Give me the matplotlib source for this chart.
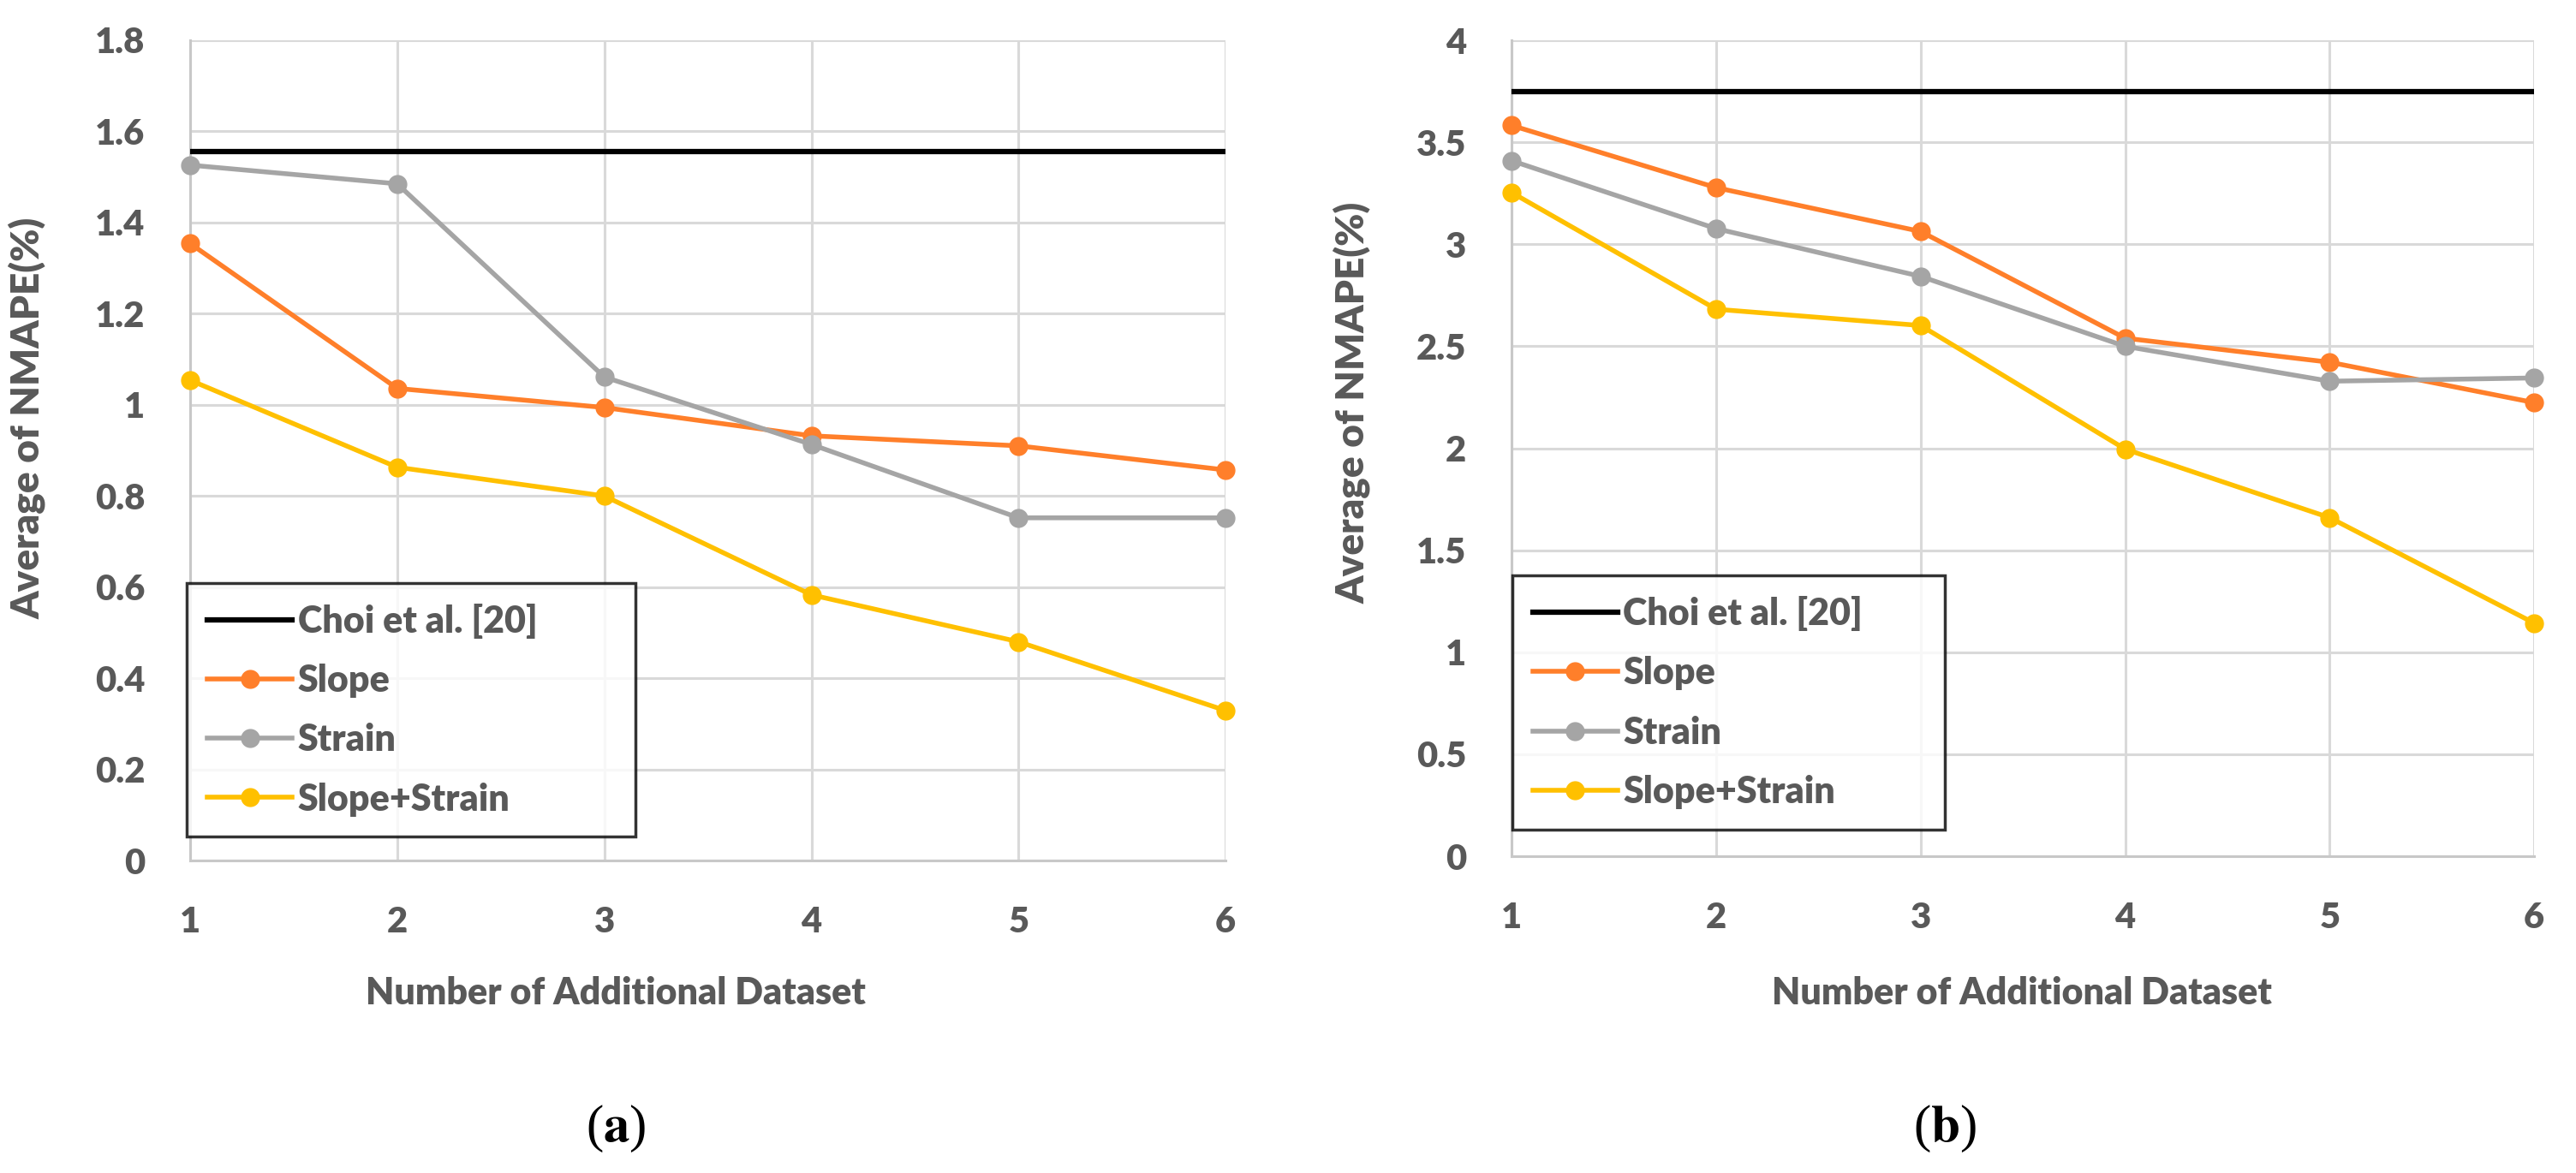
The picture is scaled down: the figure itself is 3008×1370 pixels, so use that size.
import matplotlib
matplotlib.use("Agg")
import matplotlib.pyplot as plt
from matplotlib.ticker import FuncFormatter

# data
n_datasets = [1, 2, 3, 4, 5, 6]
series_names = ["Choi et al. [20]", "Slope", "Strain", "Slope+Strain"]

choi_a = 1.555
slope_a = [1.354, 1.036, 0.994, 0.932, 0.910, 0.857]
strain_a = [1.526, 1.485, 1.061, 0.913, 0.752, 0.752]
both_a = [1.054, 0.863, 0.800, 0.583, 0.480, 0.329]

choi_b = 3.75
slope_b = [3.583, 3.278, 3.063, 2.540, 2.422, 2.224]
strain_b = [3.410, 3.077, 2.843, 2.500, 2.329, 2.345]
both_b = [3.254, 2.682, 2.602, 1.996, 1.660, 1.143]

C_ORANGE = "#FF7F2A"
C_GRAY = "#A5A5A5"
C_YELLOW = "#FFC000"
TXT = "#595959"
FONT = ["Lato", "DejaVu Sans"]
WEIGHT = "heavy"

plt.rcParams["font.family"] = FONT
plt.rcParams["font.weight"] = WEIGHT
plt.rcParams["mathtext.fontset"] = "stix"


def panel(fig, rect, choi, slope, strain, both, ymax, ystep,
          ylab_xy, leg_anchor, xlab_x):
    ax = fig.add_axes(rect)
    ax.axhline(choi, color="black", lw=4.5, zorder=3)
    for vals, col in [(slope, C_ORANGE), (strain, C_GRAY), (both, C_YELLOW)]:
        ax.plot(n_datasets, vals, color=col, lw=4.0, marker="o",
                ms=15, clip_on=False, zorder=4)

    ax.set_xlim(1, 6)
    ax.set_ylim(0, ymax)
    ax.set_xticks(n_datasets)
    n = int(round(ymax / ystep))
    ax.set_yticks([i * ystep for i in range(n + 1)])
    ax.yaxis.set_major_formatter(FuncFormatter(lambda v, _: f"{v:g}"))
    ax.grid(True, color="#D9D9D9", lw=2.2)
    ax.set_axisbelow(True)
    for s in ("top", "right"):
        ax.spines[s].set_visible(False)
    for s in ("left", "bottom"):
        ax.spines[s].set_color("#C8C8C8")
        ax.spines[s].set_linewidth(2.2)
    ax.tick_params(length=0, labelsize=30, labelcolor=TXT, pad=38)
    for lab in ax.get_xticklabels() + ax.get_yticklabels():
        lab.set_fontweight(WEIGHT)

    ax.set_ylabel("Average of NMAPE(%)", fontsize=33, color=TXT,
                  fontweight=WEIGHT)
    ax.yaxis.set_label_coords(*ylab_xy)
    fig.text(xlab_x, 0.153, "Number of Additional Dataset", fontsize=31,
             color=TXT, fontweight=WEIGHT, ha="center", va="center")

    leg = ax.legend(
        ax.get_lines(), series_names, loc="lower left",
        bbox_to_anchor=leg_anchor, mode="expand", fontsize=31,
        frameon=True, fancybox=False, edgecolor="black",
        handlelength=2.3, handletextpad=0.15, labelspacing=0.68,
        borderpad=0.55, borderaxespad=0)
    leg.get_frame().set_linewidth(2.5)
    for t in leg.get_texts():
        t.set_color(TXT)
        t.set_fontweight(WEIGHT)
    leg.set_zorder(10)
    return ax


fig = plt.figure(figsize=(30.08, 13.70), dpi=100)

panel(fig, [0.0738, 0.2664, 0.402, 0.6993], choi_a, slope_a, strain_a,
      both_a, 1.8, 0.2, (-0.139, 0.539), (-0.003, 0.029, 0.433, 0.3),
      0.239)
panel(fig, [0.5868, 0.2700, 0.397, 0.6956], choi_b, slope_b, strain_b,
      both_b, 4.0, 0.5, (-0.138, 0.556), (0.001, 0.033, 0.423, 0.3),
      0.785)

for x, lab in [(0.239, "a"), (0.755, "b")]:
    fig.text(x, 0.038, rf"($\mathbf{{{lab}}}$)", fontsize=44,
             family="Liberation Serif", fontweight="normal",
             ha="center", va="center")

fig.savefig("out.png", dpi=100, facecolor="white")
